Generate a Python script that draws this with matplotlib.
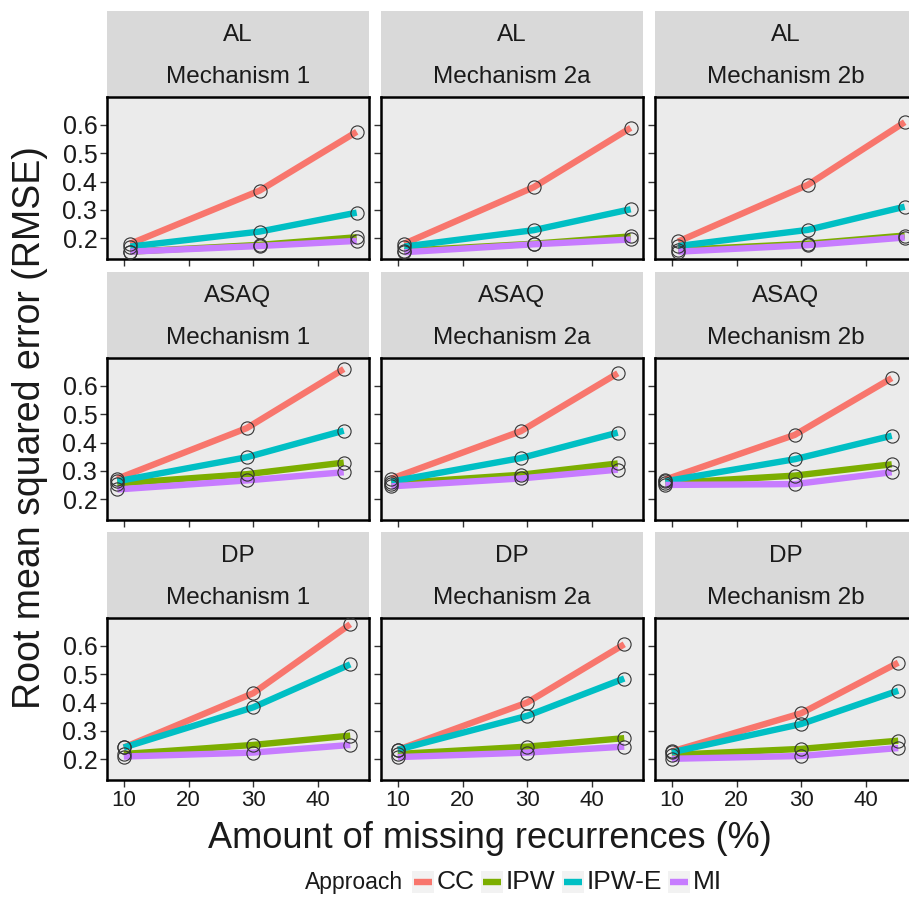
import matplotlib
matplotlib.use("Agg")
import matplotlib.pyplot as plt
from matplotlib.patches import Rectangle
from matplotlib.lines import Line2D

plt.rcParams["font.family"] = ["Liberation Sans", "DejaVu Sans"]

# facets
drugs = ["AL", "ASAQ", "DP"]
mechanisms = ["Mechanism 1", "Mechanism 2a", "Mechanism 2b"]
approaches = ["CC", "IPW", "IPW-E", "MI"]
colors = ["#F8766D", "#7CAE00", "#00BFC4", "#C77CFF"]

# amount of missing recurrences (%) per drug
x_al = [11, 31, 46]
x_asaq = [9, 29, 44]
x_dp = [10, 30, 45]

# RMSE, one list per mechanism (1, 2a, 2b)
al_cc = [[0.180, 0.368, 0.576], [0.180, 0.380, 0.590], [0.188, 0.388, 0.610]]
al_ipw = [[0.152, 0.176, 0.203], [0.155, 0.180, 0.206], [0.158, 0.180, 0.209]]
al_ipwe = [[0.170, 0.223, 0.290], [0.170, 0.228, 0.302], [0.172, 0.229, 0.311]]
al_mi = [[0.152, 0.172, 0.190], [0.150, 0.178, 0.195], [0.152, 0.175, 0.202]]

asaq_cc = [[0.272, 0.451, 0.660], [0.272, 0.440, 0.645], [0.269, 0.427, 0.628]]
asaq_ipw = [[0.255, 0.288, 0.329], [0.255, 0.286, 0.326], [0.256, 0.283, 0.323]]
asaq_ipwe = [[0.263, 0.348, 0.442], [0.262, 0.345, 0.435], [0.263, 0.341, 0.424]]
asaq_mi = [[0.234, 0.266, 0.295], [0.245, 0.273, 0.304], [0.250, 0.253, 0.295]]

dp_cc = [[0.241, 0.433, 0.677], [0.233, 0.400, 0.606], [0.227, 0.362, 0.541]]
dp_ipw = [[0.218, 0.250, 0.283], [0.218, 0.244, 0.274], [0.215, 0.236, 0.265]]
dp_ipwe = [[0.241, 0.383, 0.535], [0.233, 0.353, 0.485], [0.224, 0.324, 0.442]]
dp_mi = [[0.209, 0.223, 0.250], [0.207, 0.223, 0.244], [0.201, 0.211, 0.239]]

xs = {"AL": x_al, "ASAQ": x_asaq, "DP": x_dp}
rmse = {
    "AL": [al_cc, al_ipw, al_ipwe, al_mi],
    "ASAQ": [asaq_cc, asaq_ipw, asaq_ipwe, asaq_mi],
    "DP": [dp_cc, dp_ipw, dp_ipwe, dp_mi],
}

W, H = 909, 897
fig = plt.figure(figsize=(W / 100, H / 100), dpi=100)

lefts = [107, 381, 655]
tops = [97, 358, 618]
pw, ph, sh = 262, 162, 86
ink = "#1a1a1a"


def box(x, y, w, h):
    return [x / W, 1 - (y + h) / H, w / W, h / H]


for r, drug in enumerate(drugs):
    for c, mech in enumerate(mechanisms):
        # strip
        st = fig.add_axes(box(lefts[c], tops[r] - sh, pw, sh))
        st.set_facecolor("#D9D9D9")
        for s in st.spines.values():
            s.set_visible(False)
        st.set_xticks([])
        st.set_yticks([])
        st.set_xlim(0, 1)
        st.set_ylim(0, 1)
        st.text(0.5, 1 - 24 / sh, drug, ha="center", va="center", fontsize=17.5, color=ink)
        st.text(0.5, 1 - 66 / sh, mech, ha="center", va="center", fontsize=17.5, color=ink)

        ax = fig.add_axes(box(lefts[c], tops[r], pw, ph))
        ax.set_facecolor("#EBEBEB")
        x = xs[drug]
        for a in range(len(approaches)):
            ax.plot(x, rmse[drug][a][c], color=colors[a], lw=4.6,
                    solid_capstyle="butt", zorder=2)
        for a in range(len(approaches)):
            ax.plot(x, rmse[drug][a][c], ls="none", marker="o", ms=9.5,
                    mfc="none", mec="#333333", mew=0.8, zorder=3)
        ax.set_xlim(7.4, 47.9)
        ax.set_ylim(0.126, 0.699)
        ax.set_yticks([0.2, 0.3, 0.4, 0.5, 0.6])
        ax.set_xticks([10, 20, 30, 40])
        for s in ax.spines.values():
            s.set_linewidth(1.8)
            s.set_color("black")
        ax.tick_params(length=5, width=1, color="#333333", labelcolor=ink, pad=2)
        ax.tick_params(axis="x", labelsize=16)
        ax.tick_params(axis="y", labelsize=18)
        if c > 0:
            ax.tick_params(axis="y", labelleft=False)
        if r < 2:
            ax.tick_params(axis="x", labelbottom=False)

fig.text(30 / W, 1 - 428 / H, "Root mean squared error (RMSE)", rotation=90,
         ha="center", va="center", fontsize=27, color=ink)
fig.text(490 / W, 1 - 838 / H, "Amount of missing recurrences (%)",
         ha="center", va="center", fontsize=26, color=ink)

# legend at the bottom
renderer = fig.canvas.get_renderer()
ly = 1 - 882 / H
t = fig.text(305 / W, ly, "Approach", ha="left", va="center", fontsize=16.5, color=ink)
xpos = t.get_window_extent(renderer).x1 + 9
for name, col in zip(approaches, colors):
    kx = xpos / W
    fig.patches.append(Rectangle((kx, 1 - 893 / H), 22 / W, 22 / H,
                                 transform=fig.transFigure, facecolor="#F2F2F2",
                                 edgecolor="none"))
    fig.lines.append(Line2D([kx + 2 / W, kx + 20 / W], [ly, ly], color=col, lw=4.6,
                            transform=fig.transFigure, solid_capstyle="butt"))
    tt = fig.text((xpos + 25) / W, ly, name, ha="left", va="center", fontsize=19, color=ink)
    xpos = tt.get_window_extent(renderer).x1 + 6

fig.savefig("out.png", dpi=100)
